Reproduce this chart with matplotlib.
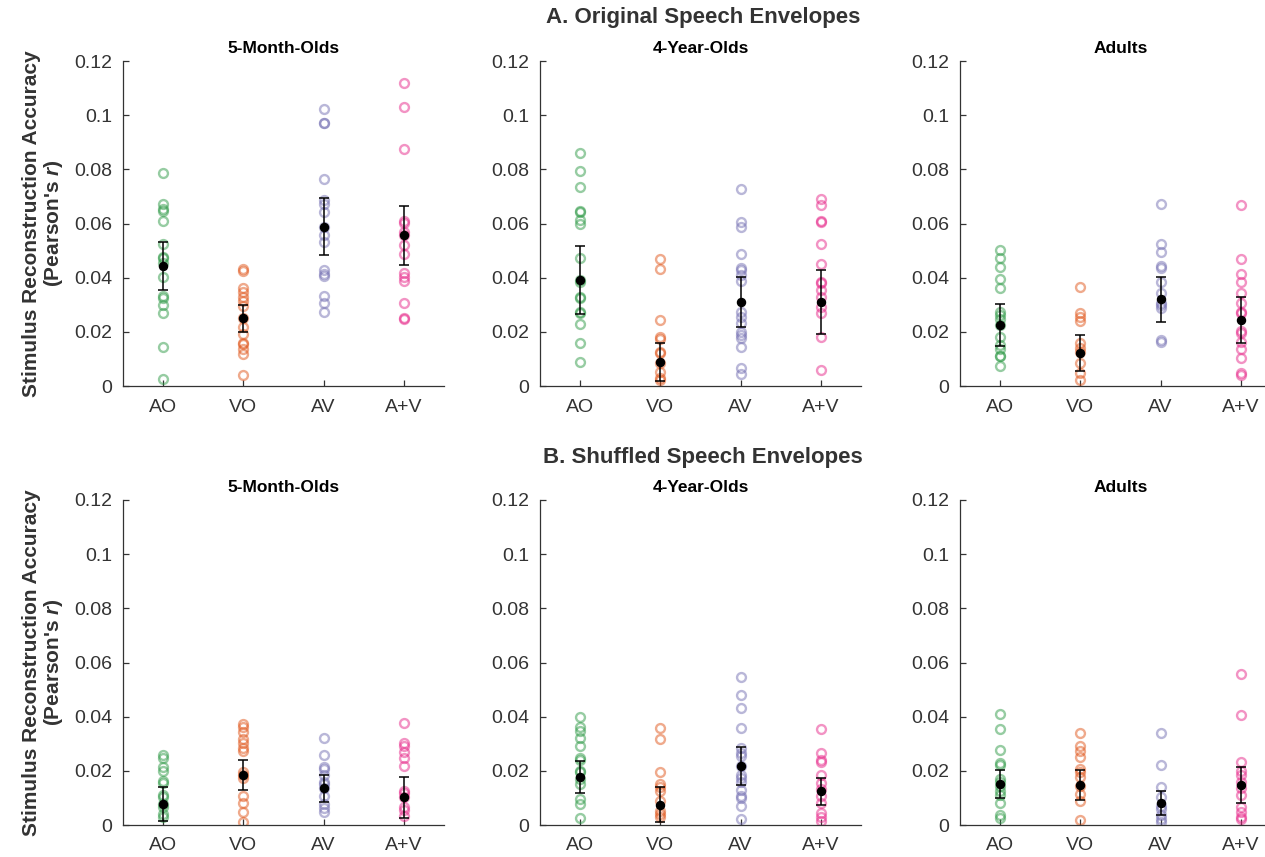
import numpy as np
import matplotlib
matplotlib.use("Agg")
import matplotlib.pyplot as plt

plt.rcParams['font.family'] = ['Liberation Sans', 'DejaVu Sans']
plt.rcParams['mathtext.fontset'] = 'custom'
plt.rcParams['mathtext.it'] = 'Liberation Sans:bold:italic'
plt.rcParams['mathtext.rm'] = 'Liberation Sans:bold'

conditions = ['AO', 'VO', 'AV', 'A+V']
colors = ['#2f9a47', '#e0561b', '#7570b3', '#e7298a']
groups = ['5-Month-Olds', '4-Year-Olds', 'Adults']
row_titles = ['A. Original Speech Envelopes', 'B. Shuffled Speech Envelopes']

# per-participant reconstruction accuracy, one list per condition (AO, VO, AV, A+V)
orig_5mo = [
    [0.0788, 0.0671, 0.0652, 0.0646, 0.0609, 0.0523, 0.0478, 0.0471, 0.0453, 0.0404,
     0.0332, 0.0324, 0.0299, 0.0268, 0.0143, 0.0025],
    [0.0432, 0.0426, 0.0361, 0.0348, 0.0330, 0.0315, 0.0295, 0.0250, 0.0219, 0.0191,
     0.0160, 0.0154, 0.0135, 0.0118, 0.0041],
    [0.1022, 0.0972, 0.0970, 0.0763, 0.0687, 0.0672, 0.0644, 0.0588, 0.0558, 0.0533,
     0.0428, 0.0414, 0.0406, 0.0334, 0.0305, 0.0272],
    [0.1120, 0.1029, 0.0874, 0.0610, 0.0603, 0.0570, 0.0558, 0.0521, 0.0487, 0.0416,
     0.0404, 0.0389, 0.0305, 0.0252, 0.0249],
]
orig_4yo = [
    [0.0862, 0.0795, 0.0736, 0.0646, 0.0644, 0.0613, 0.0598, 0.0471, 0.0391, 0.0383,
     0.0330, 0.0324, 0.0274, 0.0268, 0.0229, 0.0160, 0.0090],
    [0.0468, 0.0432, 0.0244, 0.0180, 0.0175, 0.0127, 0.0121, 0.0084, 0.0053, 0.0028,
     0.0022],
    [0.0726, 0.0607, 0.0588, 0.0486, 0.0434, 0.0428, 0.0410, 0.0388, 0.0274, 0.0256,
     0.0231, 0.0201, 0.0188, 0.0176, 0.0145, 0.0068, 0.0044],
    [0.0690, 0.0668, 0.0609, 0.0607, 0.0523, 0.0450, 0.0385, 0.0379, 0.0354, 0.0330,
     0.0293, 0.0268, 0.0180, 0.0059],
]
orig_adult = [
    [0.0502, 0.0471, 0.0438, 0.0394, 0.0361, 0.0274, 0.0262, 0.0246, 0.0225, 0.0182,
     0.0151, 0.0137, 0.0111, 0.0109, 0.0074],
    [0.0364, 0.0268, 0.0256, 0.0241, 0.0158, 0.0139, 0.0127, 0.0084, 0.0049, 0.0022],
    [0.0672, 0.0523, 0.0494, 0.0443, 0.0434, 0.0383, 0.0342, 0.0305, 0.0299, 0.0287,
     0.0170, 0.0164],
    [0.0668, 0.0469, 0.0414, 0.0385, 0.0345, 0.0305, 0.0274, 0.0268, 0.0203, 0.0197,
     0.0164, 0.0135, 0.0102, 0.0049, 0.0041],
]
shuf_5mo = [
    [0.0258, 0.0249, 0.0216, 0.0200, 0.0163, 0.0155, 0.0110, 0.0102, 0.0077, 0.0065,
     0.0040, 0.0028],
    [0.0372, 0.0363, 0.0344, 0.0317, 0.0304, 0.0286, 0.0274, 0.0194, 0.0184, 0.0175,
     0.0106, 0.0081, 0.0049, 0.0012],
    [0.0320, 0.0258, 0.0216, 0.0206, 0.0184, 0.0157, 0.0151, 0.0135, 0.0108, 0.0077,
     0.0061, 0.0047],
    [0.0375, 0.0302, 0.0292, 0.0270, 0.0249, 0.0218, 0.0126, 0.0118, 0.0102, 0.0065,
     0.0056, 0.0034],
]
shuf_4yo = [
    [0.0399, 0.0363, 0.0347, 0.0323, 0.0292, 0.0249, 0.0240, 0.0200, 0.0196, 0.0169,
     0.0151, 0.0096, 0.0077, 0.0025],
    [0.0358, 0.0319, 0.0194, 0.0151, 0.0142, 0.0126, 0.0090, 0.0053, 0.0040, 0.0028],
    [0.0546, 0.0481, 0.0433, 0.0360, 0.0286, 0.0267, 0.0255, 0.0218, 0.0184, 0.0172,
     0.0157, 0.0129, 0.0108, 0.0098, 0.0069, 0.0022],
    [0.0353, 0.0265, 0.0240, 0.0233, 0.0184, 0.0155, 0.0133, 0.0108, 0.0081, 0.0044,
     0.0028, 0.0016],
]
shuf_adult = [
    [0.0411, 0.0353, 0.0276, 0.0228, 0.0221, 0.0169, 0.0157, 0.0145, 0.0126, 0.0110,
     0.0081, 0.0037, 0.0026],
    [0.0339, 0.0292, 0.0274, 0.0252, 0.0206, 0.0196, 0.0179, 0.0145, 0.0114, 0.0090,
     0.0018],
    [0.0341, 0.0223, 0.0141, 0.0102, 0.0071, 0.0059, 0.0037, 0.0022, 0.0010],
    [0.0558, 0.0406, 0.0233, 0.0200, 0.0184, 0.0157, 0.0135, 0.0110, 0.0065, 0.0049,
     0.0028, 0.0022],
]

# group means and 95% CI half-widths
orig_means = [[0.0444, 0.0250, 0.0588, 0.0556],
              [0.0391, 0.0087, 0.0309, 0.0309],
              [0.0225, 0.0123, 0.0320, 0.0244]]
orig_ci = [[0.0088, 0.0049, 0.0105, 0.0110],
           [0.0125, 0.0070, 0.0092, 0.0118],
           [0.0077, 0.0067, 0.0083, 0.0084]]
shuf_means = [[0.0077, 0.0184, 0.0135, 0.0102],
              [0.0179, 0.0075, 0.0218, 0.0124],
              [0.0151, 0.0147, 0.0081, 0.0147]]
shuf_ci = [[0.0062, 0.0056, 0.0051, 0.0075],
           [0.0059, 0.0065, 0.0069, 0.0049],
           [0.0053, 0.0056, 0.0045, 0.0066]]

rows = [
    ([orig_5mo, orig_4yo, orig_adult], orig_means, orig_ci),
    ([shuf_5mo, shuf_4yo, shuf_adult], shuf_means, shuf_ci),
]

W, H = 1265, 857
fig = plt.figure(figsize=(W / 100, H / 100), dpi=100)

col_left = [123, 540, 960]
ax_w = 321
row_top = [61, 500]
ax_h = 325
txt = '#333333'

for r, (panels, means, cis) in enumerate(rows):
    for c in range(3):
        ax = fig.add_axes([col_left[c] / W, 1 - (row_top[r] + ax_h) / H,
                           ax_w / W, ax_h / H])
        pts = panels[c]
        for k in range(4):
            ax.plot(np.full(len(pts[k]), k + 1), pts[k], 'o', ms=6.4,
                    mfc='none', mec=colors[k], mew=1.7, alpha=0.5)
        ax.errorbar(np.arange(1, 5), means[c], yerr=cis[c], fmt='o', color='k',
                    ms=5.8, elinewidth=1.1, capsize=3.8, capthick=1.1, zorder=5)

        ax.set_xlim(0.5, 4.5)
        ax.set_ylim(0, 0.12)
        ax.set_xticks(np.arange(1, 5))
        ax.set_xticklabels(conditions)
        ax.set_yticks(np.arange(0, 0.121, 0.02))
        ax.set_yticklabels(['0', '0.02', '0.04', '0.06', '0.08', '0.1', '0.12'])
        ax.tick_params(direction='in', length=4, width=0.9, colors=txt,
                       labelsize=14)
        ax.tick_params(axis='y', pad=8)
        ax.tick_params(axis='x', pad=9)
        for s in ['top', 'right']:
            ax.spines[s].set_visible(False)
        for s in ['left', 'bottom']:
            ax.spines[s].set_color(txt)
            ax.spines[s].set_linewidth(0.9)
        ax.set_title(groups[c], fontsize=12.5, fontweight='bold', pad=6)

        if c == 0:
            ax.set_ylabel("Stimulus Reconstruction Accuracy\n(Pearson's $r$)",
                          fontsize=15, fontweight='bold', color=txt,
                          linespacing=1.1)
            ax.yaxis.set_label_coords(-0.18, 0.5)

    fig.text(703 / W, 1 - (18 if r == 0 else 457) / H, row_titles[r],
             ha='center', va='center', fontsize=16, fontweight='bold',
             color='#333333')

fig.savefig('out.png', dpi=100)
